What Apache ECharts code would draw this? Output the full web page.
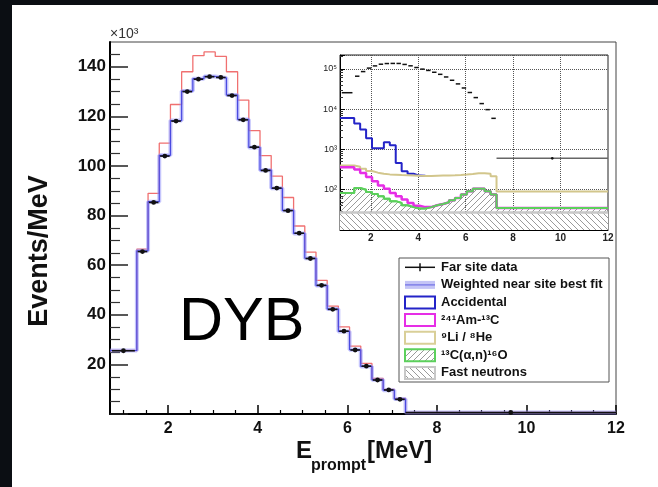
<!DOCTYPE html>
<html><head><meta charset="utf-8">
<script src="https://cdn.jsdelivr.net/npm/echarts@6/dist/echarts.min.js"></script>
<style>html,body{margin:0;padding:0;background:#fff}#c{width:658px;height:487px}</style>
</head><body><div id="c"></div>
<script>
// ---- data ----
const edges = [0.7,1.3,1.55,1.8,2.05,2.3,2.55,2.8,3.05,3.3,3.55,3.8,4.05,4.3,4.55,4.8,5.05,5.3,5.55,5.8,6.05,6.3,6.55,6.8,7.05,7.3,12];
// main panel, units of 10^3 events/MeV
const farData = [25.5,65.5,85.3,104.0,118.1,130.0,135.0,136.0,135.7,128.4,118.6,107.6,98.2,91.1,82.0,72.9,62.7,51.9,42.2,33.4,25.8,19.3,13.7,9.7,5.9,0.6];
const nearFit = [25.6,65.8,85.6,104.3,118.3,130.2,135.2,136.1,135.5,128.6,118.8,107.5,98.3,91.0,82.1,72.8,62.8,51.8,42.3,33.3,25.9,19.2,13.8,9.6,6.0,0.6];
const redCurve = [25.6,66.5,89.0,109.2,124.8,138.0,144.5,146.0,144.2,138.0,126.6,114.3,104.2,95.9,87.3,75.8,65.3,53.9,43.5,35.1,27.4,20.4,14.4,9.9,6.3,0.6];
// inset (log), events/MeV, stacked backgrounds (accidental hidden under Li/He above 4 MeV)
const accidental = [6000,4400,3100,1900,1070,1070,1500,1260,460,285,250,224,222,null,null,null,null,null,null,null,null,null,null,null,null,null];
const amc        = [360,316,260,208,162,128,105,83,69,57,47,40,37,37,41,44,49,55,62,76,91,105,105,91,76,35];
const lihe       = [400,370,330,290,265,250,240,235,230,228,225,222,220,220,222,224,226,228,232,238,245,255,255,250,215,90];
const alphaN     = [83,110,100,88,78,69,60,52,47,41,37,34,34,37,41,44,49,55,62,76,91,105,105,91,76,35];
const fastN      = [27,27,27,27,27,27,27,27,27,27,27,27,27,27,27,27,27,27,27,27,27,27,27,27,27,27];
// axes
const mainXLabels = [2,4,6,8,10,12];
const mainXMinor = [1,1.5,2.5,3,3.5,4.5,5,5.5,6.5,7,7.5,8.5,9,9.5,10.5,11,11.5];
const mainYLabels = [20,40,60,80,100,120,140];
const mainYTicks = [0,20,40,60,80,100,120,140];
const mainYMinor = [5,10,15,25,30,35,45,50,55,65,70,75,85,90,95,105,110,115,125,130,135,145];
const insetXGrid = [2,4,6,8,10];
const insetXLabels = [2,4,6,8,10,12];
const legendLabels = ['Far site data','Weighted near site best fit','Accidental','\u00b2\u2074\u00b9Am-\u00b9\u00b3C','\u2079Li / \u2078He','\u00b9\u00b3C(\u03b1,n)\u00b9\u2076O','Fast neutrons'];

// ---- helpers ----
const FONT = '"Liberation Sans", Arial, Helvetica, sans-serif';
function stepData(vals){ return edges.map((e,i)=>[e, vals[Math.min(i, vals.length-1)]]); }
function binData(vals, scale){ return vals.map((v,i)=>[edges[i], edges[i+1], v*scale]); }
function hatch(dir, bg){
  const s=6, c=document.createElement('canvas'); c.width=s; c.height=s;
  const g=c.getContext('2d');
  if(bg){ g.fillStyle=bg; g.fillRect(0,0,s,s); }
  g.strokeStyle='#9a9a9a'; g.lineWidth=1; g.beginPath();
  if(dir==='/'){ g.moveTo(-1,s+1); g.lineTo(s+1,-1); g.moveTo(-1,1); g.lineTo(1,-1); g.moveTo(s-1,s+1); g.lineTo(s+1,s-1); }
  else { g.moveTo(-1,-1); g.lineTo(s+1,s+1); g.moveTo(-1,s-1); g.lineTo(1,s+1); g.moveTo(s-1,-1); g.lineTo(s+1,1); }
  g.stroke(); return c;
}
const hatchFwd = hatch('/', null);
const hatchFwdW = hatch('/', '#fff');
const hatchBack = hatch('\\', '#fff');
function dataRender(frac, lw, r, longColor){
  return function(params, api){
    const x0=api.value(0), x1=api.value(1), v=api.value(2);
    const long = (x1-x0) > 1;
    const f = long ? 1 : frac;
    const w=(x1-x0)*f/2, xc=(x0+x1)/2;
    const a=api.coord([xc-w, v]), b=api.coord([xc+w, v]), c=api.coord([xc, v]);
    const col = long && longColor ? longColor : '#111';
    const kids = [{type:'line', shape:{x1:a[0],y1:a[1],x2:b[0],y2:b[1]}, style:{stroke:col, lineWidth:lw}}];
    const rr = long && longColor ? 1.3 : r;
    if(rr>0) kids.push({type:'circle', shape:{cx:c[0],cy:c[1],r:rr}, style:{fill:'#111'}});
    return {type:'group', children:kids};
  };
}
function stepLine(name, vals, color, width, xi, yi, z, extra){
  return Object.assign({type:'line', name, data:stepData(vals), step:'end', xAxisIndex:xi, yAxisIndex:yi,
    showSymbol:false, symbol:'none', z:z, lineStyle:{color, width}, itemStyle:{color}, animation:false}, extra||{});
}

const chart = echarts.init(document.getElementById('c'), null, {renderer:'canvas'});
const G0 = {left:110, top:42, right:42, bottom:73};
const G1 = {left:340, top:55, right:50, bottom:257};
const supMap = {1:'\u00b9',2:'\u00b2',3:'\u00b3',4:'\u2074',5:'\u2075'};

// legend graphics
const legendG = [];
const LX=399, LY=258, LW=210, LH=124, rowH=17.6, row0=267.3;
legendG.push({type:'rect', shape:{x:LX,y:LY,width:LW,height:LH}, style:{fill:'#fff', stroke:'#555', lineWidth:1}, z:100});
legendLabels.forEach((t,i)=>{
  const cy=row0+i*rowH;
  legendG.push({type:'text', x:441, y:cy, style:{text:t, font:'bold 13px '+FONT, fill:'#111', textVerticalAlign:'middle'}, z:101});
  const sx=405, sw=30;
  if(i===0){
    legendG.push({type:'line', shape:{x1:sx,y1:cy,x2:sx+sw,y2:cy}, style:{stroke:'#111',lineWidth:1.5}, z:101});
    legendG.push({type:'line', shape:{x1:sx+15,y1:cy-4,x2:sx+15,y2:cy+4}, style:{stroke:'#111',lineWidth:1.5}, z:101});
  } else if(i===1){
    legendG.push({type:'rect', shape:{x:sx,y:cy-4,width:sw,height:8}, style:{fill:'#c4c4f6'}, z:101});
    legendG.push({type:'line', shape:{x1:sx,y1:cy,x2:sx+sw,y2:cy}, style:{stroke:'#7070e6',lineWidth:1.2}, z:101});
  } else {
    const cols = {2:'#2424c8',3:'#e62ee6',4:'#d9cf98',5:'#5cd05c',6:'#c8c8c8'};
    const fills = {5:{image:hatchFwdW, repeat:'repeat'}, 6:{image:hatchBack, repeat:'repeat'}};
    legendG.push({type:'rect', shape:{x:sx,y:cy-6,width:sw,height:12}, style:{fill:fills[i]||'#fff', stroke:cols[i], lineWidth:2}, z:101});
  }
});

const option = {
  animation:false,
  backgroundColor:'#fff',
  grid:[
    Object.assign({show:true, borderColor:'#444', borderWidth:1, backgroundColor:'transparent'}, G0),
    Object.assign({show:true, borderColor:'#222', borderWidth:1, backgroundColor:'#fff', z:5}, G1)
  ],
  xAxis:[
    {type:'value', gridIndex:0, min:0.7, max:12, position:'bottom',
     axisLine:{show:true, onZero:false, lineStyle:{color:'#000', width:2}},
     axisTick:{show:true, inside:true, length:9, customValues:mainXLabels, lineStyle:{color:'#000', width:1.5}},
     axisLabel:{show:true, customValues:mainXLabels, margin:7, color:'#111', fontSize:16, fontWeight:'bold', fontFamily:FONT},
     splitLine:{show:false}},
    {type:'value', gridIndex:0, min:0.7, max:12, position:'bottom',
     axisLine:{show:false}, axisLabel:{show:false}, splitLine:{show:false},
     axisTick:{show:true, inside:true, length:4, customValues:mainXMinor, lineStyle:{color:'#000', width:1.2}}},
    {type:'value', gridIndex:1, min:0.7, max:12, position:'bottom', z:6,
     axisLine:{show:true, onZero:false, lineStyle:{color:'#000', width:1}},
     axisTick:{show:true, inside:true, length:3, customValues:insetXGrid, lineStyle:{color:'#000'}},
     axisLabel:{show:true, customValues:insetXLabels, margin:3, color:'#222', fontSize:10, fontWeight:'bold', fontFamily:FONT},
     splitLine:{show:true, lineStyle:{color:'#555', type:'dotted', width:1}}}
  ],
  yAxis:[
    {type:'value', gridIndex:0, min:0, max:150, position:'left',
     axisLine:{show:true, onZero:false, lineStyle:{color:'#000', width:2}},
     axisTick:{show:true, inside:true, length:18, customValues:mainYTicks, lineStyle:{color:'#222', width:1.5}},
     axisLabel:{show:true, customValues:mainYLabels, margin:4, color:'#111', fontSize:17, fontWeight:'bold', fontFamily:FONT},
     splitLine:{show:false}},
    {type:'value', gridIndex:0, min:0, max:150, position:'left',
     axisLine:{show:false}, axisLabel:{show:false}, splitLine:{show:false},
     axisTick:{show:true, inside:true, length:10, customValues:mainYMinor, lineStyle:{color:'#333', width:1.2}}},
    {type:'log', logBase:10, gridIndex:1, min:10, max:220000, position:'left', z:6,
     axisLine:{show:true, onZero:false, lineStyle:{color:'#000', width:1}},
     axisTick:{show:true, inside:true, length:5, lineStyle:{color:'#000'}},
     minorTick:{show:true, splitNumber:9, length:3, lineStyle:{color:'#333'}},
     axisLabel:{show:true, showMaxLabel:false, margin:3, color:'#222', fontSize:9, fontFamily:FONT,
       formatter:function(v){ const l=Math.log10(v), e=Math.round(l); return (e>=2 && Math.abs(l-e)<1e-6) ? '10'+supMap[e] : ''; }},
     splitLine:{show:true, lineStyle:{color:'#555', type:'dotted', width:1}}}
  ],
  graphic:[
    {type:'rect', shape:{x:0,y:0,width:658,height:5}, style:{fill:'#0b0e13'}, z:200},
    {type:'rect', shape:{x:0,y:0,width:12,height:487}, style:{fill:'#0b0e13'}, z:200},
    {type:'text', x:110, y:34, style:{text:'\u00d710\u00b3', font:'14px '+FONT, fill:'#333', textVerticalAlign:'middle'}},
    {type:'text', x:40, y:251, rotation:Math.PI/2, style:{text:'Events/MeV', font:'bold 27px '+FONT, fill:'#111', textAlign:'center', textVerticalAlign:'middle'}},
    {type:'text', x:296, y:451, style:{text:'E', font:'bold 24px '+FONT, fill:'#111', textVerticalAlign:'middle'}},
    {type:'text', x:311, y:466, style:{text:'prompt', font:'bold 16px '+FONT, fill:'#111', textVerticalAlign:'middle'}},
    {type:'text', x:367, y:451, style:{text:'[MeV]', font:'bold 24px '+FONT, fill:'#111', textVerticalAlign:'middle'}},
    {type:'text', x:179, y:323, style:{text:'DYB', font:'61px '+FONT, fill:'#000', textVerticalAlign:'middle'}, z:50}
  ].concat(legendG),
  series:[
    // main panel
    stepLine('red', redCurve, '#f07070', 1.3, 0, 0, 2),
    stepLine('Weighted near site best fit band', nearFit, 'rgba(150,150,250,0.55)', 4, 0, 0, 3),
    stepLine('Weighted near site best fit', nearFit, '#4a4ae0', 1.2, 0, 0, 4),
    {type:'custom', name:'Far site data', xAxisIndex:0, yAxisIndex:0, z:5, data:binData(farData,1),
     encode:{x:[0,1], y:2}, renderItem:dataRender(0.85, 1.6, 2.4, null), animation:false},
    // inset
    stepLine('13C(a,n)16O area', alphaN, '#5cd05c', 2, 2, 2, 10, {areaStyle:{color:{image:hatchFwd, repeat:'repeat'}, origin:'start', opacity:1}}),
    stepLine('Fast neutrons', fastN, '#c8c8c8', 2, 2, 2, 11, {areaStyle:{color:{image:hatchBack, repeat:'repeat'}, origin:'start', opacity:1}}),
    stepLine('Accidental', accidental, '#2424c8', 2, 2, 2, 12),
    stepLine('9Li/8He', lihe, '#d2c68c', 2, 2, 2, 13),
    stepLine('241Am-13C', amc, '#e62ee6', 2.5, 2, 2, 14),
    stepLine('13C(a,n)16O', alphaN, '#5cd05c', 2, 2, 2, 15),
    stepLine('Fast neutrons line', fastN, '#c8c8c8', 2, 2, 2, 16),
    {type:'custom', name:'Far site data inset', xAxisIndex:2, yAxisIndex:2, z:17, data:binData(farData,1000),
     encode:{x:[0,1], y:2}, renderItem:dataRender(0.75, 1.5, 0, '#666'), animation:false}
  ]
};
chart.setOption(option);
</script></body></html>
